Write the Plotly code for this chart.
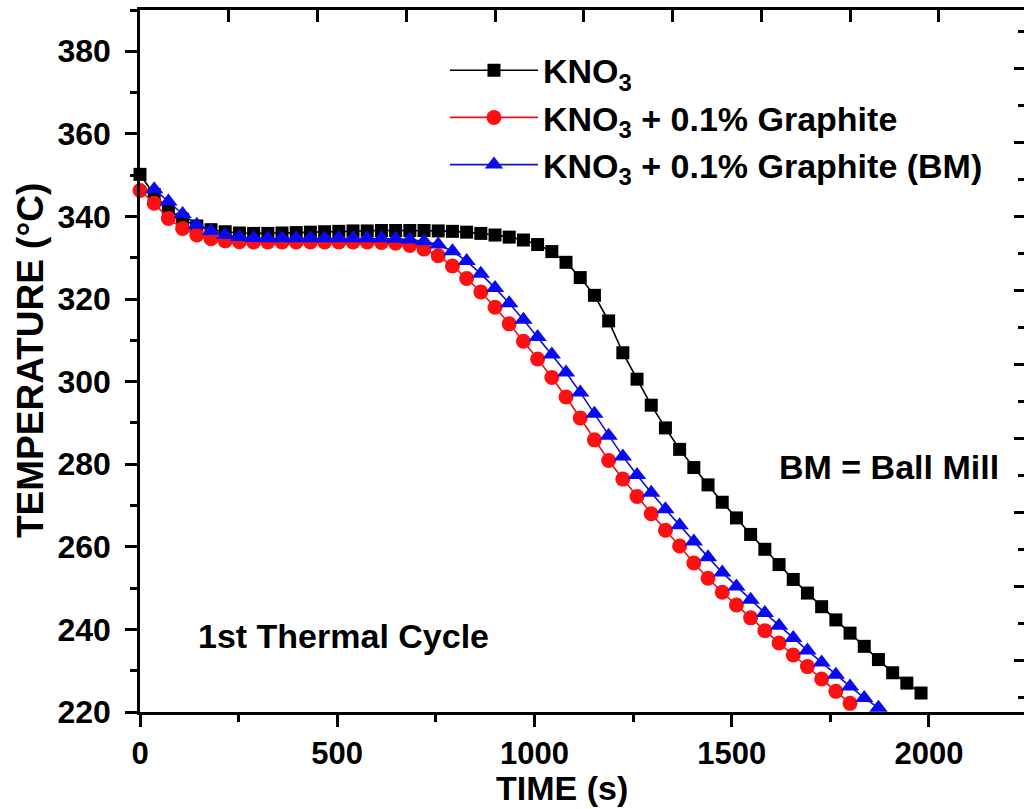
import plotly.graph_objects as go

# Cooling curves, 1st thermal cycle (time in s, temperature in °C)
time_kno3 = [0, 36, 72, 108, 144, 180, 216, 252, 288, 324,
             360, 396, 432, 468, 504, 540, 576, 612, 648, 684,
             720, 756, 792, 828, 864, 900, 936, 972, 1008, 1044,
             1080, 1116, 1152, 1188, 1224, 1260, 1296, 1332, 1368, 1404,
             1440, 1476, 1512, 1548, 1584, 1620, 1656, 1692, 1728, 1764,
             1800, 1836, 1872, 1908, 1944, 1980]
temp_kno3 = [350.2, 345.3, 341.8, 339.3, 337.7, 336.8, 336.3, 336.0, 335.9, 335.9,
             336.0, 336.1, 336.2, 336.3, 336.4, 336.5, 336.5, 336.6, 336.6, 336.6,
             336.6, 336.5, 336.4, 336.2, 335.9, 335.5, 335.0, 334.3, 333.2, 331.5,
             328.9, 325.2, 320.9, 314.7, 307.0, 300.6, 294.3, 288.8, 283.6, 279.2,
             275.0, 270.8, 267.0, 263.0, 259.4, 255.7, 252.1, 248.8, 245.5, 242.3,
             239.1, 235.9, 232.7, 229.5, 227.0, 224.6]

time_graphite = [0, 36, 72, 108, 144, 180, 216, 252, 288, 324,
                 360, 396, 432, 468, 504, 540, 576, 612, 648, 684,
                 720, 756, 792, 828, 864, 900, 936, 972, 1008, 1044,
                 1080, 1116, 1152, 1188, 1224, 1260, 1296, 1332, 1368, 1404,
                 1440, 1476, 1512, 1548, 1584, 1620, 1656, 1692, 1728, 1764,
                 1800]
temp_graphite = [346.3, 343.2, 339.5, 337.1, 335.5, 334.6, 334.1, 333.9, 333.8, 333.8,
                 333.8, 333.8, 333.8, 333.8, 333.8, 333.8, 333.8, 333.7, 333.5, 333.0,
                 332.1, 330.5, 328.0, 325.0, 321.7, 318.0, 314.0, 309.8, 305.5, 301.0,
                 296.3, 291.2, 285.9, 280.9, 276.4, 272.2, 268.0, 264.0, 260.2, 256.1,
                 252.4, 249.0, 245.9, 242.8, 239.7, 236.7, 233.8, 231.0, 228.0, 225.0,
                 222.1]

time_graphite_bm = [36, 72, 108, 144, 180, 216, 252, 288, 324, 360,
                    396, 432, 468, 504, 540, 576, 612, 648, 684, 720,
                    756, 792, 828, 864, 900, 936, 972, 1008, 1044, 1080,
                    1116, 1152, 1188, 1224, 1260, 1296, 1332, 1368, 1404, 1440,
                    1476, 1512, 1548, 1584, 1620, 1656, 1692, 1728, 1764, 1800,
                    1836, 1872]
temp_graphite_bm = [346.6, 343.6, 340.6, 338.0, 336.5, 335.5, 335.0, 334.8, 334.7, 334.7,
                    334.7, 334.7, 334.7, 334.7, 334.7, 334.7, 334.7, 334.6, 334.4, 334.0,
                    333.2, 331.6, 329.2, 326.1, 322.7, 319.0, 315.0, 310.8, 306.6, 302.2,
                    297.4, 292.2, 286.9, 281.9, 277.4, 273.1, 269.1, 265.2, 261.3, 257.5,
                    253.8, 250.4, 247.2, 244.0, 240.9, 237.9, 234.9, 232.0, 229.0, 226.2,
                    223.4, 221.0]

series_names = ["KNO<sub>3</sub>",
                "KNO<sub>3</sub> + 0.1% Graphite",
                "KNO<sub>3</sub> + 0.1% Graphite (BM)"]

FONT = "Liberation Sans, Arial, sans-serif"
AXIS_W = 2.5

fig = go.Figure()
fig.add_trace(go.Scatter(
    x=time_kno3, y=temp_kno3, name=series_names[0], mode="lines+markers",
    line=dict(color="black", width=1.6),
    marker=dict(symbol="square", size=13, color="black"),
    cliponaxis=False))
fig.add_trace(go.Scatter(
    x=time_graphite, y=temp_graphite, name=series_names[1], mode="lines+markers",
    line=dict(color="#e8111b", width=1.6),
    marker=dict(symbol="circle", size=15, color="#ff1010"),
    cliponaxis=False))
fig.add_trace(go.Scatter(
    x=time_graphite_bm, y=temp_graphite_bm, name=series_names[2], mode="lines+markers",
    line=dict(color="#1010d0", width=1.6),
    marker=dict(symbol="triangle-up", size=16, color="#0a0af0"),
    cliponaxis=False))
# empty trace so the top/right frame axes get drawn
fig.add_trace(go.Scatter(x=[], y=[], xaxis="x2", yaxis="y2",
                         showlegend=False, hoverinfo="skip"))

x_tick_font = dict(family=FONT, size=31, color="black", weight="bold")
y_tick_font = dict(family=FONT, size=32, color="black", weight="bold")

fig.update_layout(
    width=1024, height=809,
    margin=dict(l=140, r=0, t=10, b=97),
    paper_bgcolor="white", plot_bgcolor="white",
    showlegend=True,
    legend=dict(
        x=0.345, y=0.955, xanchor="left", yanchor="top",
        bgcolor="rgba(0,0,0,0)", borderwidth=0,
        font=dict(family=FONT, size=34, color="black", weight="bold"),
        itemwidth=88, tracegroupgap=0,
    ),
    xaxis=dict(
        range=[0, 2241], tickmode="linear", tick0=0, dtick=500,
        ticks="outside", ticklen=12, tickwidth=AXIS_W, tickcolor="black",
        minor=dict(dtick=250, ticks="outside", ticklen=7, tickwidth=AXIS_W, tickcolor="black"),
        showline=True, linecolor="black", linewidth=AXIS_W,
        showgrid=False, zeroline=False, tickfont=x_tick_font,
    ),
    yaxis=dict(
        range=[220, 390], tickmode="linear", tick0=220, dtick=20,
        ticks="outside", ticklen=12, tickwidth=AXIS_W, tickcolor="black",
        minor=dict(dtick=10, ticks="outside", ticklen=7, tickwidth=AXIS_W, tickcolor="black"),
        showline=True, linecolor="black", linewidth=AXIS_W,
        showgrid=False, zeroline=False, tickfont=y_tick_font,
        ticklabelstandoff=8,
    ),
    # frame: top edge and right edge with inward ticks
    xaxis2=dict(
        overlaying="x", side="top", anchor="y", range=[0, 2490],
        tickmode="linear", tick0=0, dtick=500,
        ticks="inside", ticklen=12, tickwidth=AXIS_W, tickcolor="black",
        minor=dict(dtick=250, ticks="inside", ticklen=12, tickwidth=AXIS_W, tickcolor="black"),
        showline=True, linecolor="black", linewidth=AXIS_W,
        showticklabels=False, showgrid=False, zeroline=False,
    ),
    yaxis2=dict(
        overlaying="y", side="right", anchor="x", range=[206, 395.7],
        tickmode="linear", tick0=220, dtick=20,
        ticks="inside", ticklen=10, tickwidth=AXIS_W, tickcolor="black",
        minor=dict(dtick=10, ticks="inside", ticklen=6, tickwidth=AXIS_W, tickcolor="black"),
        showline=False, showticklabels=False, showgrid=False, zeroline=False,
    ),
)

# axis titles and in-plot notes
fig.add_annotation(text="TEMPERATURE (°C)", xref="paper", yref="paper",
                   x=-0.1244, y=0.5, textangle=-90, showarrow=False,
                   xanchor="center", yanchor="middle",
                   font=dict(family=FONT, size=37, color="black", weight="bold"))
fig.add_annotation(text="TIME (s)", xref="paper", yref="paper",
                   x=0.477, y=-0.1365, showarrow=False,
                   xanchor="center", yanchor="bottom", borderpad=0,
                   font=dict(family=FONT, size=34, color="black", weight="bold"))
fig.add_annotation(text="1st Thermal Cycle", xref="x", yref="y",
                   x=515, y=238.4, showarrow=False,
                   xanchor="center", yanchor="middle",
                   font=dict(family=FONT, size=34, color="black", weight="bold"))
fig.add_annotation(text="BM = Ball Mill", xref="x", yref="y",
                   x=1899, y=279.4, showarrow=False,
                   xanchor="center", yanchor="middle",
                   font=dict(family=FONT, size=34, color="black", weight="bold"))

fig.write_html("out.html")
